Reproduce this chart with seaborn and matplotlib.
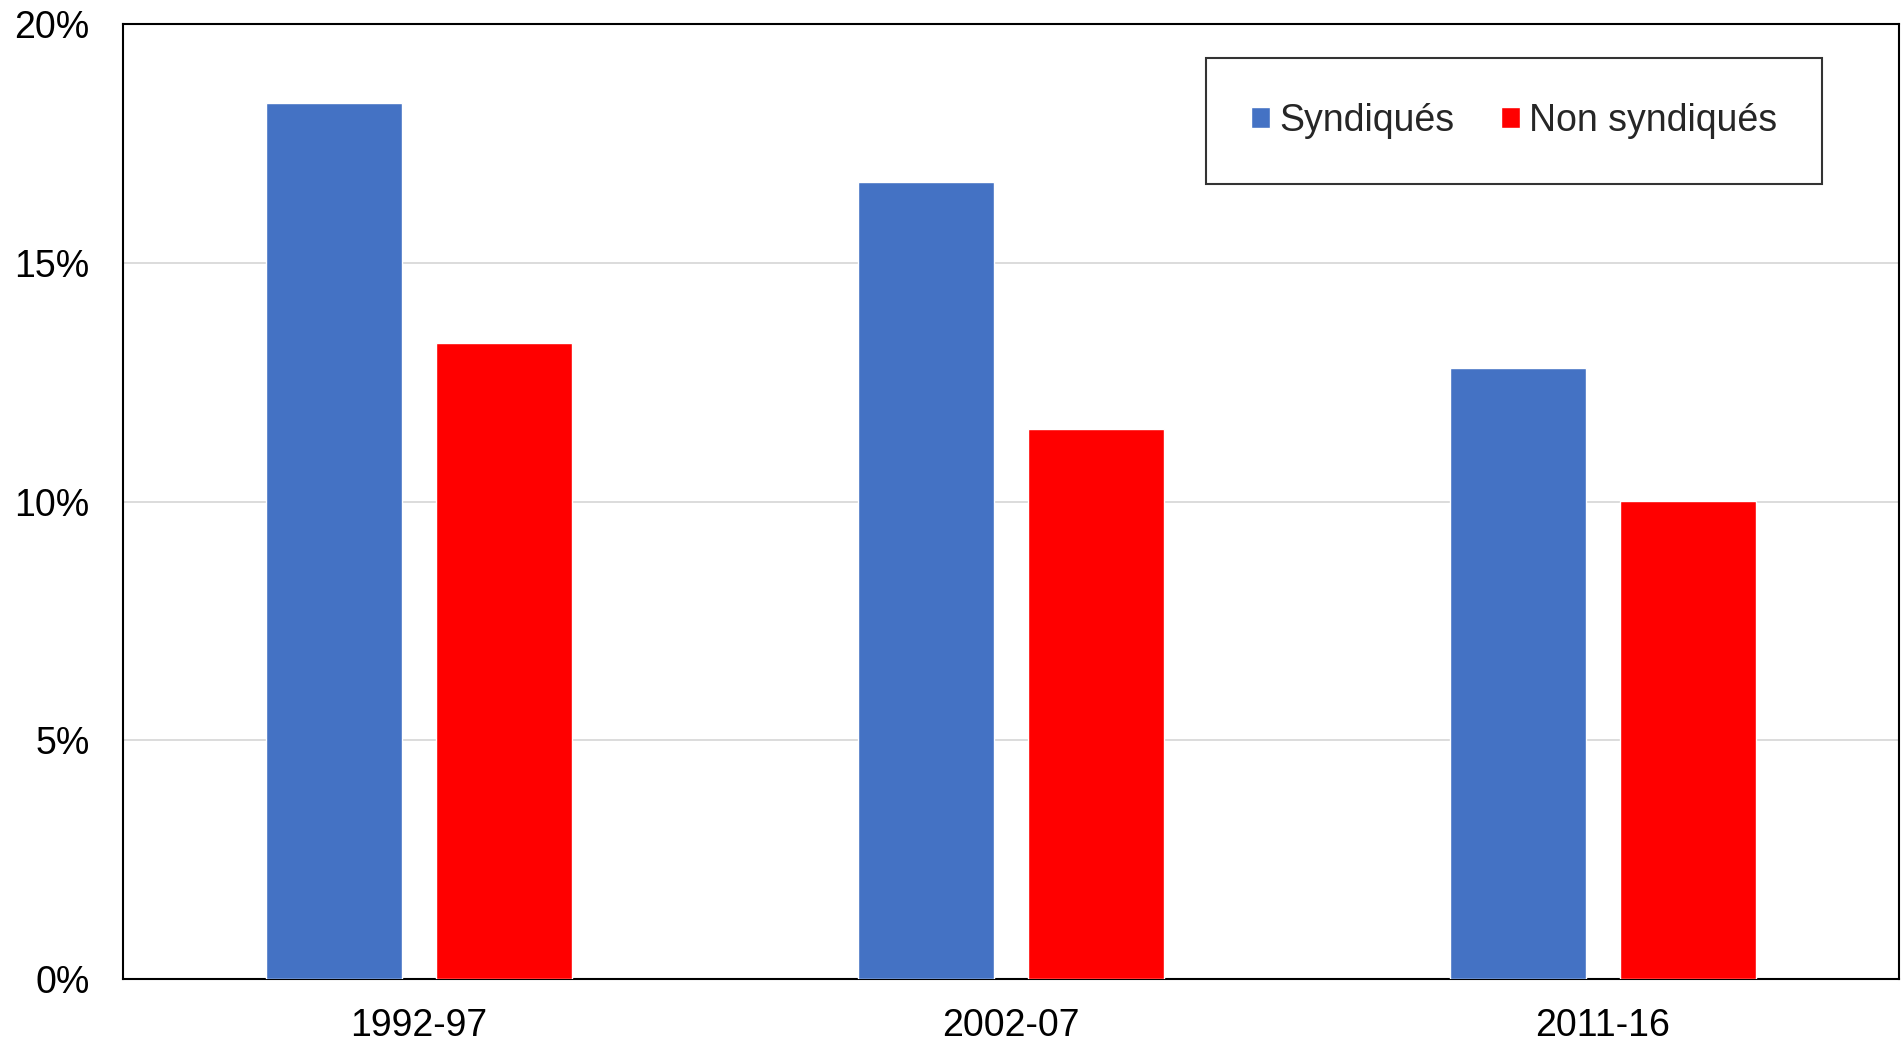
import matplotlib
matplotlib.use("Agg")
import matplotlib.pyplot as plt
import seaborn as sns
import pandas as pd
from matplotlib.ticker import FuncFormatter

periods = ["1992-97", "2002-07", "2011-16"]
syndiques = [18.35, 16.70, 12.80]
non_syndiques = [13.32, 11.52, 10.02]
series_names = ["Syndiqués", "Non syndiqués"]
colors = ["#4472C4", "#FF0000"]

df = pd.DataFrame({
    "period": periods * 2,
    "value": syndiques + non_syndiques,
    "group": [series_names[0]] * 3 + [series_names[1]] * 3,
})

sns.set_theme(style="white")
plt.rcParams["font.family"] = ["Liberation Sans", "DejaVu Sans"]

fig = plt.figure(figsize=(19.01, 10.41), dpi=100)
ax = fig.add_axes([123 / 1901, 62 / 1041, (1899 - 123) / 1901, (979 - 24) / 1041])

sns.barplot(data=df, x="period", y="value", hue="group", order=periods,
            hue_order=series_names, palette=colors, width=0.575, gap=0.2,
            saturation=1, ax=ax, zorder=3)

ax.set_ylim(0, 20)
ax.set_xlim(-0.5, 2.5)
ax.set_yticks([0, 5, 10, 15, 20])
ax.yaxis.set_major_formatter(FuncFormatter(lambda v, p: f"{int(v)}%"))
ax.set_xlabel("")
ax.set_ylabel("")
for y in [5, 10, 15]:
    ax.axhline(y, color="#D9D9D9", lw=1.3, zorder=1)
ax.tick_params(axis="y", length=0, pad=24, labelsize=27, colors="black")
ax.tick_params(axis="x", length=0, pad=21, labelsize=27, colors="black")
for s in ax.spines.values():
    s.set_visible(True)
    s.set_color("black")
    s.set_linewidth(1.5)

handles, labels = ax.get_legend_handles_labels()
leg = ax.legend(handles, labels, ncol=2, loc="upper left",
                bbox_to_anchor=((1206 - 123) / 1776, (979 - 58) / 955),
                fontsize=27, frameon=True, fancybox=False, edgecolor="black",
                borderpad=1.2, handlelength=0.5, handleheight=0.5,
                handletextpad=0.25, columnspacing=1.25, borderaxespad=0)
leg.get_frame().set_linewidth(1.5)

fig.savefig("out.png", dpi=100)
